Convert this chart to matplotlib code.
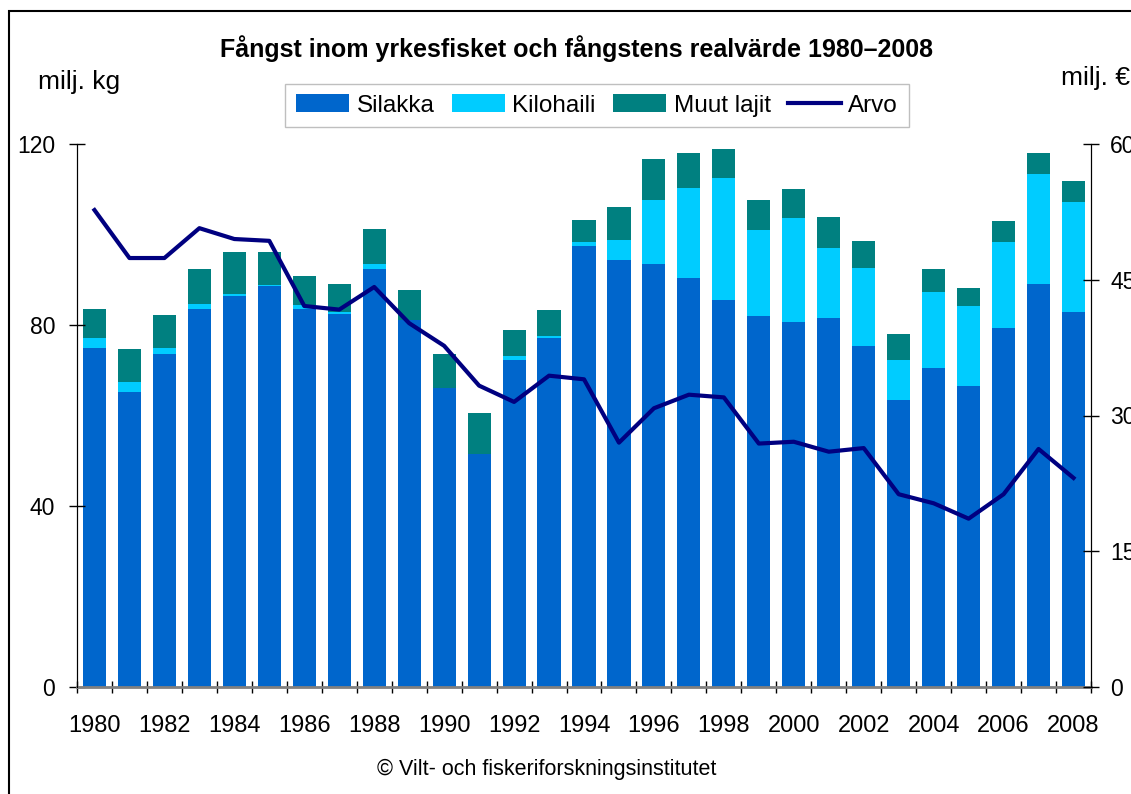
import matplotlib.pyplot as plt
import matplotlib.patches as mpatches
import numpy as np

plt.rcParams['font.family'] = ['Liberation Sans', 'DejaVu Sans']

years = list(range(1980, 2009))
silakka = [74.9, 65.2, 73.6, 83.5, 86.4, 88.6, 83.5, 82.4, 92.4, 81.1, 66.1, 51.5, 72.3, 77.1, 97.5,
           94.4, 93.5, 90.4, 85.5, 82.0, 80.7, 81.5, 75.4, 63.4, 70.5, 66.5, 79.3, 89.1, 82.9]
kilohaili = [2.2, 2.2, 1.3, 1.1, 0.5, 0.2, 0.9, 0.5, 1.1, 0.1, 0.0, 0.0, 0.8, 0.5, 0.8,
             4.4, 14.1, 19.9, 27.0, 19.0, 22.9, 15.5, 17.2, 8.9, 16.8, 17.7, 19.0, 24.3, 24.3]
muut = [6.4, 7.3, 7.3, 7.8, 9.2, 7.3, 6.4, 6.2, 7.7, 6.5, 7.5, 9.1, 5.8, 5.7, 4.9,
        7.3, 9.1, 7.7, 6.4, 6.6, 6.5, 6.9, 6.0, 5.7, 5.1, 4.0, 4.7, 4.6, 4.6]
arvo = [52.7, 47.4, 47.4, 50.7, 49.5, 49.3, 42.1, 41.7, 44.2, 40.2, 37.7, 33.3, 31.5, 34.4, 34.0,
        27.0, 30.8, 32.3, 32.0, 26.9, 27.1, 26.0, 26.4, 21.3, 20.3, 18.6, 21.3, 26.3, 23.1]

c_sil = '#0066CC'
c_kilo = '#00CCFF'
c_muut = '#008080'
c_arvo = '#000080'

fig = plt.figure(figsize=(11.31, 7.94), dpi=100)
ax = fig.add_axes([77/1131, 1-687/794, (1091-77)/1131, (687-144)/794])

x = np.arange(len(years))
w = 0.66
sil = np.array(silakka)
kil = np.array(kilohaili)
mu = np.array(muut)
ax.bar(x, sil, w, color=c_sil, label='Silakka')
ax.bar(x, kil, w, bottom=sil, color=c_kilo, label='Kilohaili')
ax.bar(x, mu, w, bottom=sil+kil, color=c_muut, label='Muut lajit')

ax.set_xlim(-0.5, len(years)-0.5)
ax.set_ylim(0, 120)
ax.set_yticks([0, 40, 80, 120])
ax.tick_params(axis='y', direction='inout', length=11.5, width=1, labelsize=16.5, pad=10)

ax.set_xticks(x[::2])
ax.set_xticklabels([str(y) for y in years[::2]])
ax.set_xticks(np.arange(-0.5, len(years)), minor=True)
ax.tick_params(axis='x', which='major', length=0, labelsize=17, pad=20)
ax.tick_params(axis='x', which='minor', direction='inout', length=9, width=1, color='black')

ax.spines['top'].set_visible(False)
ax.spines['bottom'].set_color('#808080')
ax.spines['bottom'].set_linewidth(2)

ax2 = ax.twinx()
ax2.plot(x, arvo, color=c_arvo, linewidth=3, label='Arvo', zorder=5)
ax2.set_ylim(0, 60)
ax2.set_yticks([0, 15, 30, 45, 60])
ax2.tick_params(axis='y', direction='inout', length=11.5, width=1, labelsize=16.5, pad=8)
ax2.spines['top'].set_visible(False)
ax2.spines['bottom'].set_visible(False)

fig.text(577/1131, 1-57/794, 'Fångst inom yrkesfisket och fångstens realvärde 1980\u20132008',
         ha='center', va='baseline', fontsize=18, fontweight='bold')
fig.text(38/1131, 1-89/794, 'milj. kg', ha='left', va='baseline', fontsize=19)
fig.text(1061/1131, 1-85/794, 'milj. €', ha='left', va='baseline', fontsize=19)
fig.text(547/1131, 1-775/794, '© Vilt- och fiskeriforskningsinstitutet',
         ha='center', va='baseline', fontsize=15.5)

h1, l1 = ax.get_legend_handles_labels()
h2, l2 = ax2.get_legend_handles_labels()
leg = fig.legend(h1 + h2, l1 + l2, ncol=4, loc='center', bbox_to_anchor=(597/1131, 1-105.5/794),
                 fontsize=17.5, frameon=True, fancybox=False, edgecolor='#b0b0b0',
                 handlelength=2.2, handleheight=0.7, handletextpad=0.3, columnspacing=0.7,
                 borderpad=0.45)
leg.get_frame().set_linewidth(1)

border = mpatches.Rectangle((8.5/1131, -1), 2, 1 - 11/794 + 1, transform=fig.transFigure,
                            fill=False, edgecolor='black', linewidth=1.5)
fig.patches.append(border)

fig.savefig('out.png', dpi=100)
